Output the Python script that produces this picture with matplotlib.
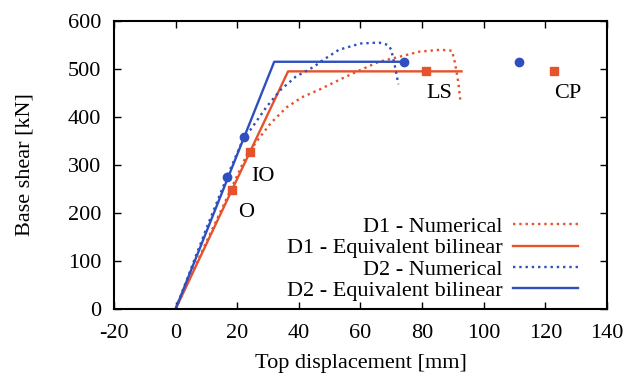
import matplotlib
matplotlib.use('Agg')
import matplotlib.pyplot as plt

plt.rcParams['font.family'] = ['Liberation Serif', 'DejaVu Serif']
plt.rcParams['font.size'] = 16
plt.rcParams['axes.unicode_minus'] = False

orange = '#e5522b'
blue = '#2f4fbf'

# D1 numerical pushover curve
d1_num_x = [0, 10, 18, 23, 27, 31, 36, 41, 47, 53, 60, 66, 73, 79, 86, 89.7, 90.7, 91.8, 92.4]
d1_num_y = [0, 140, 250, 320, 355, 388, 420, 441, 458, 477, 498, 515, 526, 536, 540, 538, 512, 470, 435]
# D1 bilinear
d1_bil_x = [0, 36.5, 92.8]
d1_bil_y = [0, 495, 495]
# D2 numerical pushover curve
d2_num_x = [0, 10, 17, 22, 24.5, 29.5, 34, 39, 45, 47, 53, 60, 66, 69, 70, 71.2, 72.3]
d2_num_y = [0, 168, 280, 355, 375, 421, 456, 484, 505, 515, 540, 553, 555, 550, 540, 505, 468]
# D2 bilinear
d2_bil_x = [0, 32, 74]
d2_bil_y = [0, 515, 515]

# performance points (O, IO, LS, CP)
d1_pts_x = [18.4, 24.3, 81.3, 122.7]
d1_pts_y = [248, 327, 495, 495]
d2_pts_x = [16.7, 22.2, 74.0, 111.5]
d2_pts_y = [274, 359, 515, 515]

labels = ['O', 'IO', 'LS', 'CP']
label_x = [23.0, 28.4, 85.5, 127.3]
label_y = [200, 276, 448, 448]

fig = plt.figure(figsize=(6.28, 3.77), dpi=100)
ax = fig.add_axes([0.1815, 0.1804, 0.785, 0.764])

ax.plot(d1_num_x, d1_num_y, ':', color=orange, lw=1.7, label='D1 - Numerical')
ax.plot(d1_bil_x, d1_bil_y, '-', color=orange, lw=1.7, label='D1 - Equivalent bilinear')
ax.plot(d2_num_x, d2_num_y, ':', color=blue, lw=1.7, label='D2 - Numerical')
ax.plot(d2_bil_x, d2_bil_y, '-', color=blue, lw=1.7, label='D2 - Equivalent bilinear')

ax.plot(d1_pts_x, d1_pts_y, 's', color=orange, ms=6, ls='none')
ax.plot(d2_pts_x, d2_pts_y, 'o', color=blue, ms=6, ls='none')

for t, x, y in zip(labels, label_x, label_y):
    ax.text(x, y, t, ha='center', va='center', fontsize=16)

ax.set_xlim(-20, 140)
ax.set_ylim(0, 600)
ax.set_xticks(range(-20, 141, 20))
ax.set_yticks(range(0, 601, 100))
ax.tick_params(direction='in', top=True, right=True, length=5, width=1, pad=9)
ax.tick_params(axis='x', pad=11)
for s in ax.spines.values():
    s.set_linewidth(1.5)

ax.set_xlabel('Top displacement [mm]', labelpad=8)
ax.set_ylabel('Base shear [kN]', labelpad=24)

ax.legend(loc='lower right', bbox_to_anchor=(0.941, 0.028), markerfirst=False,
          frameon=False, fontsize=16, handlelength=2.9, labelspacing=0.03,
          borderpad=0, borderaxespad=0, handletextpad=0.5)

fig.savefig('out.png', dpi=100)
